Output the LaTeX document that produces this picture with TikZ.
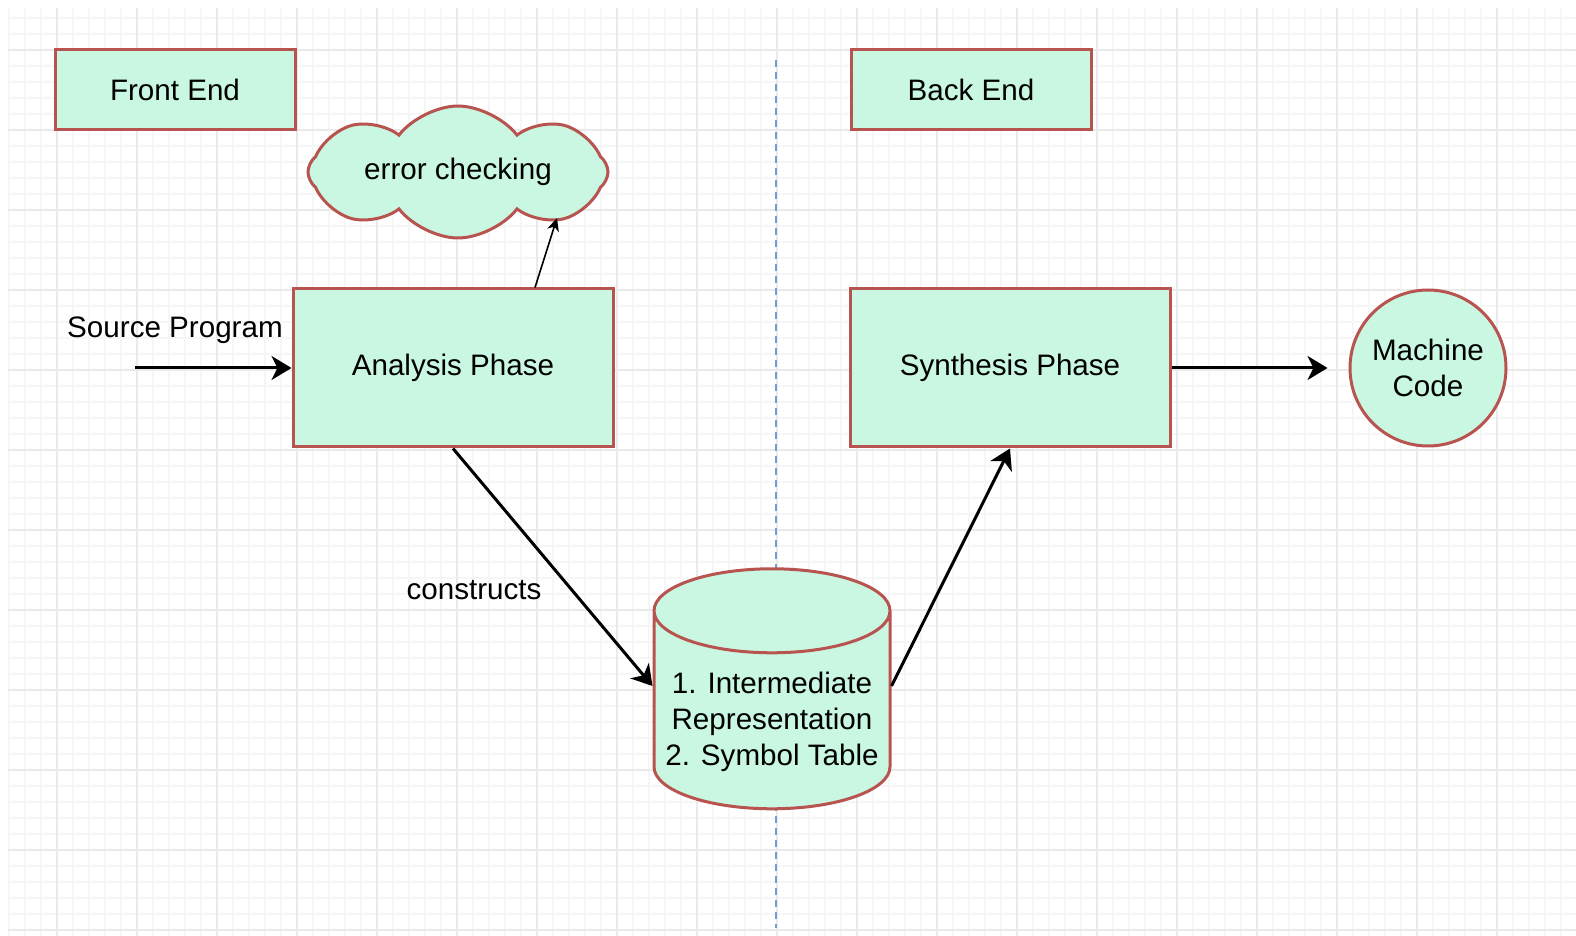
\documentclass[tikz,border=0pt]{standalone}
\usepackage{fontspec}
\setmainfont{Liberation Sans}
\usetikzlibrary{arrows.meta,shapes.geometric,shapes.symbols}

\definecolor{mint}{RGB}{201,247,225}
\definecolor{brick}{RGB}{184,84,80}
\definecolor{gridminor}{RGB}{246,246,246}
\definecolor{gridmajor}{RGB}{234,234,234}
\definecolor{divider}{RGB}{110,160,215}

\begin{document}
\begin{tikzpicture}[x=0.5pt,y=-0.5pt,
                    font=\fontsize{14.8}{18}\selectfont,
                    flow/.style={-{Stealth[length=10pt,width=12pt,inset=3pt]},line width=1.5pt},
                    thinflow/.style={-{Stealth[length=6.5pt,width=6pt,inset=2pt]},line width=0.8pt},
                    every phase/.style={draw=brick,fill=mint,line width=1.5pt,align=center}]
  \tikzset{tag/.style={every phase,minimum width=120pt,minimum height=40pt},
           phase/.style={every phase,minimum width=160pt,minimum height=79pt}}

  % page and grid
  \useasboundingbox (0,0) rectangle (1576,936);
  \foreach \x in {9,25,...,1576}
    \draw[gridminor,line width=0.75pt] (\x,8) -- (\x,936);
  \foreach \y in {18,34,...,936}
    \draw[gridminor,line width=0.75pt] (8,\y) -- (1576,\y);
  \foreach \x in {57,137,...,1576}
    \draw[gridmajor,line width=0.75pt] (\x,8) -- (\x,936);
  \foreach \y in {50,130,...,936}
    \draw[gridmajor,line width=0.75pt] (8,\y) -- (1576,\y);

  % front end / back end split
  \coordinate (split top) at (776,60);
  \coordinate (split bot) at (776,928);
  \draw[divider,line width=1pt,dash pattern=on 3.5pt off 2.5pt] (split top) -- (split bot);

  \node[tag]   (front)    at (175,90)  {Front End};
  \node[tag]   (back)     at (971,90)  {Back End};
  \node[every phase,cloud,cloud puffs=8,cloud puff arc=105,cloud ignores aspect,
        minimum width=150pt,minimum height=66pt]
               (errcheck) at (458,172) {error checking};
  \node[phase] (analysis) at (453,368) {Analysis Phase};
  \node[phase] (synth)    at (1010,368) {Synthesis Phase};
  \node[every phase,circle,minimum size=78pt,inner sep=0pt]
               (machine)  at (1428,368) {Machine\\Code};
  \node[every phase,cylinder,shape border rotate=90,inner sep=5pt,aspect=4.2,
        minimum width=118pt,minimum height=120pt]
               (store)    at (772,719) {};
  \node[align=center] (storetext) at (772,722)
        {1. Intermediate\\Representation\\2. Symbol Table};

  \node (srclabel) at (175,330) {Source Program};
  \node (conlabel) at (474,590) {constructs};
  \coordinate (srcin)  at (135,368);
  \coordinate (errtip) at (557,218);

  \draw[flow] (srcin) -- (analysis);
  \draw[thinflow] ([xshift=41pt]analysis.north) -- (errtip);
  \draw[flow] (analysis.south) -- ([yshift=16.5pt]store.west);
  \draw[flow] ([yshift=16.5pt]store.east) -- (synth.south);
  \draw[flow,shorten >=10.5pt] (synth.east) -- (machine.west);
\end{tikzpicture}
\end{document}
